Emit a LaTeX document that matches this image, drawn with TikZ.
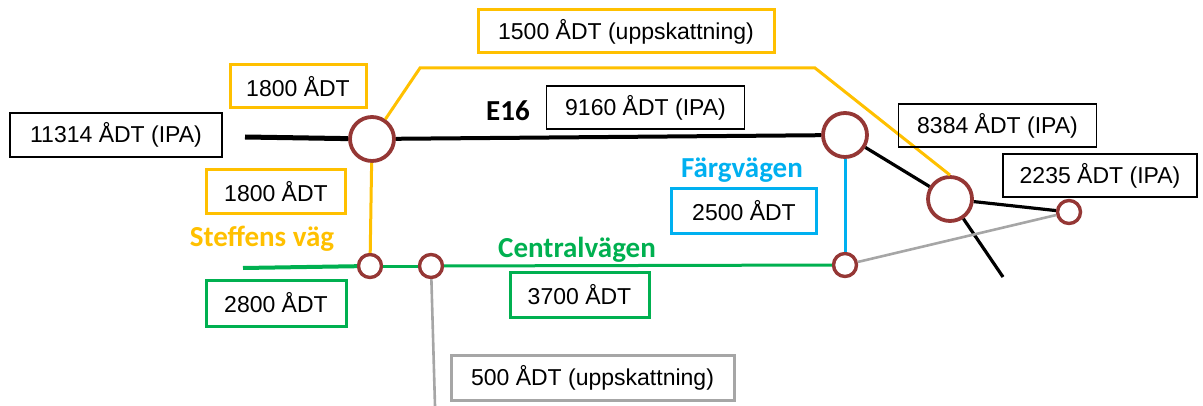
\documentclass[tikz,border=0pt]{standalone}
\usepackage{fontspec}
\setmainfont{Liberation Sans}
\newfontfamily\lblfont{Carlito}
\usepackage{tikz}

\definecolor{roadyellow}{HTML}{FFC000}
\definecolor{roadgreen}{HTML}{00B050}
\definecolor{roadblue}{HTML}{00B0F0}
\definecolor{roadgrey}{HTML}{A6A6A6}
\definecolor{knot}{HTML}{953735}

\tikzset{
  adtbox/.style={draw,line width=0.75pt,inner sep=0pt,minimum height=21.5pt,
    font=\fontsize{11.5}{13}\selectfont},
  ybox/.style={adtbox,draw=roadyellow,line width=1.5pt},
  gbox/.style={adtbox,draw=roadgreen,line width=1.5pt},
  bbox/.style={adtbox,draw=roadblue,line width=1.5pt},
  greybox/.style={adtbox,draw=roadgrey,line width=1.5pt},
  bigknot/.style={circle,draw=knot,fill=white,line width=1.9pt,inner sep=0pt,minimum size=22pt},
  smallknot/.style={circle,draw=knot,fill=white,line width=1.7pt,inner sep=0pt,minimum size=11.5pt},
  roadname/.style={anchor=base,font=\lblfont\bfseries\fontsize{14.5}{16}\selectfont}
}

\begin{document}
\begin{tikzpicture}[x=0.5pt,y=-0.5pt]
\useasboundingbox (0,0) rectangle (1203,406);
% junctions
\node[bigknot] (k1) at (372,139) {};
\node[bigknot] (k2) at (845,135) {};
\node[bigknot] (k3) at (950,199) {};
\node[smallknot] (s1) at (370,266) {};
\node[smallknot] (s2) at (431,266) {};
\node[smallknot] (s4) at (845,265) {};
\node[smallknot] (s5) at (1069,212) {};
\coordinate (e16west) at (245,137);
\coordinate (ybendL) at (420,68);
\coordinate (ybendR) at (815,68);
\coordinate (south3) at (1003,277);
\coordinate (cvwest) at (243,268);
\coordinate (greysouth) at (435,406);

% roads
\draw[line width=2.5pt] (e16west) -- (k1);
\draw[line width=2pt] (k1) -- (k2);
\draw[line width=1.6pt] (k2) -- (k3);
\draw[line width=1.6pt] (k3) -- (s5);
\draw[line width=1.6pt] (k3) -- (south3);
\draw[roadyellow,line width=1.5pt] (k1) -- (ybendL) -- (ybendR) -- (k3.north);
\draw[roadyellow,line width=1.5pt] (k1) -- (s1);
\draw[roadblue,line width=1.5pt] (k2) -- (s4);
\draw[roadgreen,line width=2pt] (cvwest) -- (s1);
\draw[roadgreen,line width=1.5pt] (s1) -- (s2);
\draw[roadgreen,line width=1.5pt] (s2) -- (s4);
\draw[roadgrey,line width=1.3pt] (s4) -- (s5);
\draw[roadgrey,line width=1.3pt] (s2) -- (greysouth);

% counts
\node[adtbox,minimum width=106pt,minimum height=22pt] (adt11314) at (116,135) {11314 ÅDT (IPA)};
\node[ybox,minimum width=68pt] (adt1800n) at (298,86.5) {1800 ÅDT};
\node[ybox,minimum width=69.5pt,minimum height=22pt] (adt1800s) at (276,192) {1800 ÅDT};
\node[ybox,minimum width=148pt] (adt1500) at (626,31.5) {1500 ÅDT (uppskattning)};
\node[adtbox,minimum width=99pt] (adt9160) at (645.5,107.5) {9160 ÅDT (IPA)};
\node[adtbox,minimum width=99pt] (adt8384) at (997.5,125.5) {8384 ÅDT (IPA)};
\node[adtbox,minimum width=97pt] (adt2235) at (1100,175.5) {2235 ÅDT (IPA)};
\node[bbox,minimum width=72.5pt,minimum height=22pt] (adt2500) at (744,211) {2500 ÅDT};
\node[gbox,minimum width=69.5pt,minimum height=22.5pt] (adt3700) at (579.5,294.5) {3700 ÅDT};
\node[gbox,minimum width=70pt,minimum height=23pt] (adt2800) at (276,303) {2800 ÅDT};
\node[greybox,minimum width=141.5pt,minimum height=22.5pt] (adt500) at (592.5,377.5) {500 ÅDT (uppskattning)};

% road names
\node[roadname] (e16) at (508,121) {E16};
\node[roadname,text=roadyellow] (steffens) at (262,247) {Steffens väg};
\node[roadname,text=roadgreen] (central) at (577,257) {Centralvägen};
\node[roadname,text=roadblue] (farg) at (742,177) {Färgvägen};
\end{tikzpicture}
\end{document}
